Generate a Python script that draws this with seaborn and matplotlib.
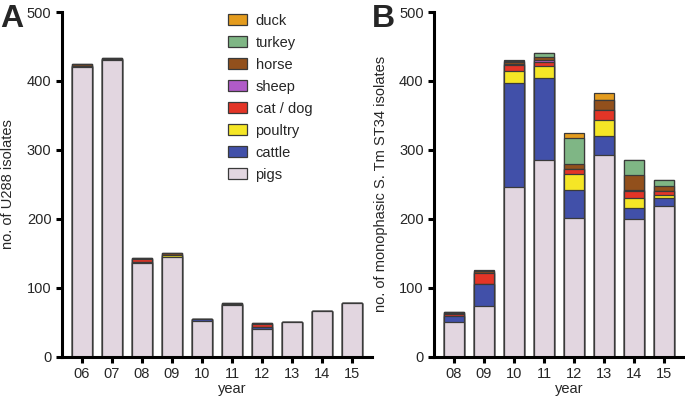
"""Stacked bar charts of U288 and ST34 isolates by host and year."""

import matplotlib

matplotlib.use("Agg")

import matplotlib.pyplot as plt
import numpy as np
import pandas as pd
import seaborn as sns
from matplotlib.patches import Patch

# stacking order, bottom to top
HOSTS = ["pigs", "cattle", "poultry", "cat / dog", "sheep", "horse", "turkey", "duck"]
HOST_COLORS = {
    "pigs": "#E2D6E0",
    "cattle": "#4150A9",
    "poultry": "#F5E626",
    "cat / dog": "#E33527",
    "sheep": "#B05BC8",
    "horse": "#92501C",
    "turkey": "#7FB685",
    "duck": "#E49C1E",
}

# panel A: U288
years_a = ["06", "07", "08", "09", "10", "11", "12", "13", "14", "15"]
pigs_a = [420, 431, 136, 145, 52, 75, 40, 50, 66, 78]
cattle_a = [1, 1, 1, 0, 3, 0, 3, 1, 0, 0]
poultry_a = [0, 0, 0, 2, 0, 1, 0, 0, 0, 0]
catdog_a = [0, 0, 5, 0, 0, 0, 4, 0, 0, 0]
sheep_a = [0, 0, 0, 0, 0, 0, 0, 0, 0, 0]
horse_a = [4, 1, 1, 3, 0, 2, 2, 0, 0, 0]
turkey_a = [0, 0, 0, 0, 0, 0, 0, 0, 0, 0]
duck_a = [0, 0, 0, 0, 0, 0, 0, 0, 0, 0]

# panel B: monophasic S. Tm ST34
years_b = ["08", "09", "10", "11", "12", "13", "14", "15"]
pigs_b = [51, 74, 246, 285, 202, 293, 200, 219]
cattle_b = [8, 31, 151, 119, 40, 27, 16, 12]
poultry_b = [0, 0, 18, 17, 23, 23, 15, 3]
catdog_b = [3, 16, 8, 7, 8, 15, 9, 6]
sheep_b = [2, 0, 1, 3, 0, 0, 2, 0]
horse_b = [1, 3, 3, 4, 7, 14, 21, 7]
turkey_b = [0, 0, 2, 5, 37, 0, 23, 9]
duck_b = [0, 2, 1, 0, 8, 10, 0, 0]


def stacked_bars(ax, years, series, ylabel):
    df = pd.DataFrame(series, index=years)[HOSTS]
    cumulative = df.cumsum(axis=1)
    # draw from the top of the stack down so lower layers cover upper ones
    for host in reversed(HOSTS):
        sns.barplot(
            x=list(years),
            y=cumulative[host].values,
            order=list(years),
            color=HOST_COLORS[host],
            saturation=1,
            width=0.667,
            edgecolor="#3a3a3a",
            linewidth=0.9,
            ax=ax,
        )
    ax.set_ylim(0, 500)
    ax.set_yticks(np.arange(0, 501, 100))
    ax.set_xlim(-0.667, len(years) - 0.333)
    ax.set_xlabel("year")
    ax.set_ylabel(ylabel)
    sns.despine(ax=ax)
    for side in ("left", "bottom"):
        ax.spines[side].set_linewidth(2.2)
        ax.spines[side].set_color("black")
    ax.tick_params(axis="both", width=2.2, length=4.5, labelsize=10.5, color="black", pad=3)


sns.set_theme(style="ticks")
plt.rcParams["font.family"] = ["Liberation Sans", "DejaVu Sans"]
plt.rcParams["axes.labelsize"] = 10.5

fig = plt.figure(figsize=(6.85, 4.0), dpi=100)
ax_a = fig.add_axes([0.0905, 0.108, 0.4525, 0.862])
ax_b = fig.add_axes([0.6336, 0.108, 0.3650, 0.862])

stacked_bars(
    ax_a,
    years_a,
    {
        "pigs": pigs_a, "cattle": cattle_a, "poultry": poultry_a, "cat / dog": catdog_a,
        "sheep": sheep_a, "horse": horse_a, "turkey": turkey_a, "duck": duck_a,
    },
    "no. of U288 isolates",
)
stacked_bars(
    ax_b,
    years_b,
    {
        "pigs": pigs_b, "cattle": cattle_b, "poultry": poultry_b, "cat / dog": catdog_b,
        "sheep": sheep_b, "horse": horse_b, "turkey": turkey_b, "duck": duck_b,
    },
    "no. of monophasic S. Tm ST34 isolates",
)

ax_a.xaxis.set_label_coords(0.55, -0.074)
ax_b.xaxis.set_label_coords(0.54, -0.074)
ax_a.yaxis.set_label_coords(-0.15, 0.5)
ax_b.yaxis.set_label_coords(-0.185, 0.5)

handles = [
    Patch(facecolor=HOST_COLORS[h], edgecolor="#3a3a3a", linewidth=0.9, label=h)
    for h in reversed(HOSTS)
]
ax_a.legend(
    handles=handles,
    loc="upper left",
    bbox_to_anchor=(0.535, 0.995),
    frameon=False,
    fontsize=10.5,
    handlelength=1.3,
    handleheight=0.75,
    handletextpad=0.6,
    labelspacing=0.55,
    borderpad=0,
    borderaxespad=0,
)

fig.text(0.0, 0.99, "A", fontsize=23, fontweight="bold", va="top", ha="left")
fig.text(0.543, 0.99, "B", fontsize=23, fontweight="bold", va="top", ha="left")

fig.savefig("out.png", dpi=100)
plt.close(fig)
